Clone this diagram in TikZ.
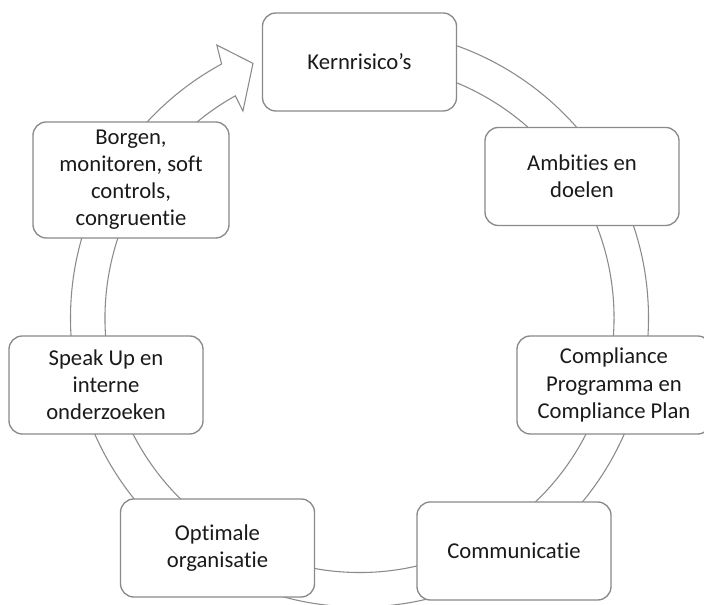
\documentclass[tikz,border=0pt]{standalone}
\usepackage{fontspec}
\setmainfont{Carlito}[Ligatures={NoCommon}]
\definecolor{lijngrijs}{HTML}{8A8A8A}
\definecolor{tekstzwart}{HTML}{1A1A1A}

\tikzset{
  stap/.style={draw=lijngrijs, line width=1pt, fill=white, rounded corners=10pt,
    minimum width=145.5pt, minimum height=73.5pt, align=center,
    text=tekstzwart, font=\fontsize{17}{20.3}\selectfont},
  ring/.style={draw=lijngrijs, line width=.8pt, fill=white, line join=miter}
}

\newcommand\cirkelPijl {
  \draw[ring] (90:289) arc (90:-241.5:289)
     -- (117.6:308)
     -- (112.7:276)
     -- (119.4:237.5)
     -- (-240.8:254.5)
     arc (-240.8:90:254.5)
     -- cycle ;
}

\begin{document}
\begin{tikzpicture}[x=.75pt, y=.75pt]
   \clip (0, 0) rectangle (704, 605) ;
   \fill[white] (0, 0) rectangle (704, 605) ;
   \begin{scope}[shift={(359.5, 287)}]
     \cirkelPijl
   \end{scope}
   \node[stap] (kern) at (359.5, 543) {Kernrisico’s} ;
   \node[stap] (ambities) at (582, 428.5) {Ambities en\\doelen} ;
   \node[stap] (compliance) at (614, 220) {Compliance\\Programma en\\Compliance Plan} ;
   \node[stap] (communicatie) at (514, 54) {Communicatie} ;
   \node[stap] (optimale) at (217.5, 57) {Optimale\\organisatie} ;
   \node[stap] (speakup) at (106, 220) {Speak Up en\\interne\\onderzoeken} ;
   \node[stap, minimum width=147pt, minimum height=87pt] (borgen) at (131, 425)
     {Borgen,\\monitoren, soft\\controls,\\congruentie} ;
\end{tikzpicture}
\end{document}
